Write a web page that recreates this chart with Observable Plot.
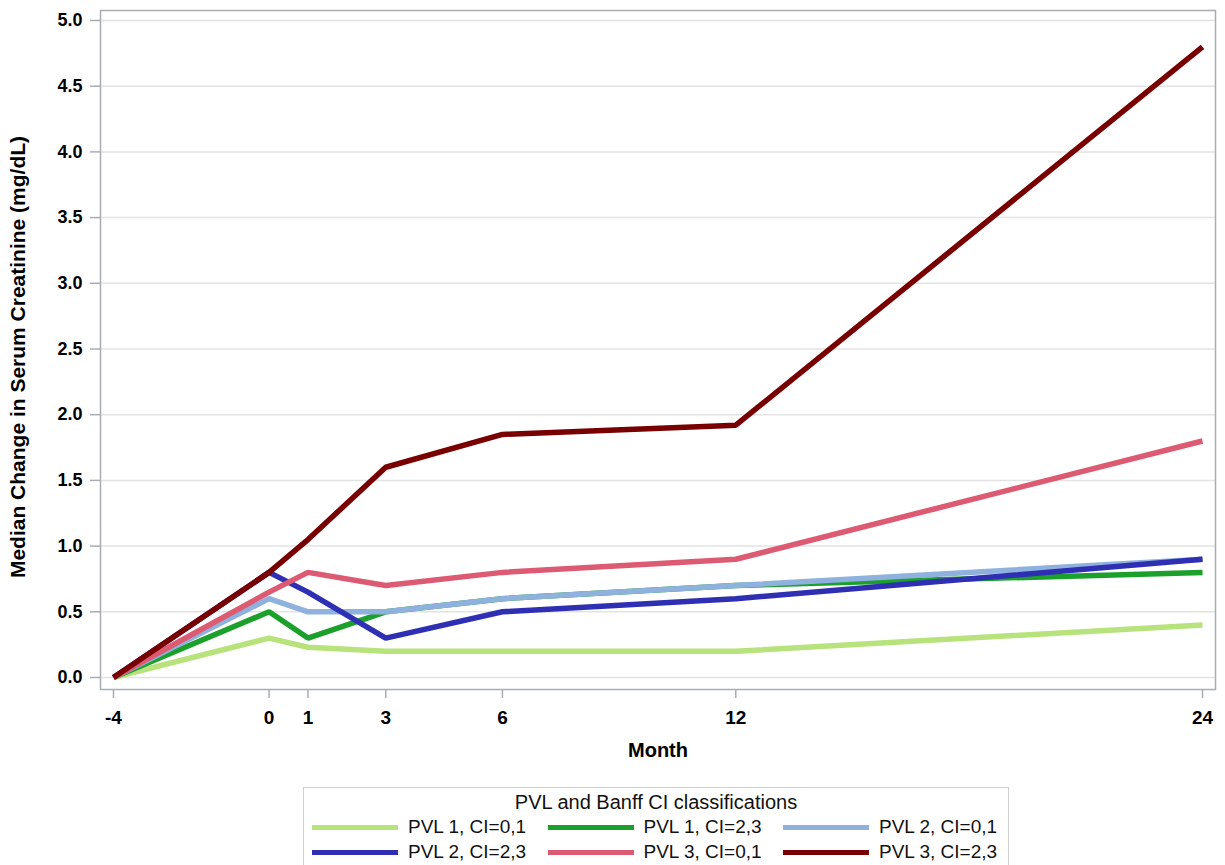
<!DOCTYPE html>
<html>
<head>
<meta charset="utf-8">
<script src="https://cdn.jsdelivr.net/npm/d3@7"></script>
<script src="https://cdn.jsdelivr.net/npm/@observablehq/plot@0.6"></script>
<style>
  body { margin: 0; background: #fff; font-family: "Liberation Sans", Arial, sans-serif; }
  #wrap { position: relative; width: 1225px; height: 865px; overflow: hidden; }
  #legend { position: absolute; left: 303px; top: 787px; width: 706px; height: 100px;
            border: 1px solid #cfcfcf; box-sizing: border-box; background: #fff; }
  #legend .title { position: absolute; left: 0; right: 0; top: 3px; text-align: center; font-size: 20px; color: #111; }
  #legend .item { position: absolute; display: flex; align-items: center; font-size: 19px; color: #111; white-space: nowrap; }
  #legend .sw { width: 86px; height: 5px; margin-right: 10px; }
</style>
</head>
<body>
<div id="wrap"><div id="chart"></div><div id="legend"></div></div>
<script>
const months = [-4, 0, 1, 3, 6, 12, 24];
const xTicks = [-4, 0, 1, 3, 6, 12, 24];
const yTicks = [0, 0.5, 1, 1.5, 2, 2.5, 3, 3.5, 4, 4.5, 5];
const seriesNames = ["PVL 1, CI=0,1", "PVL 1, CI=2,3", "PVL 2, CI=0,1", "PVL 2, CI=2,3", "PVL 3, CI=0,1", "PVL 3, CI=2,3"];
const seriesColors = ["#b8e27c", "#1ba02c", "#8fb1dd", "#2e2fb2", "#dc5a72", "#780000"];
const pvl1ci01 = [0, 0.30, 0.23, 0.20, 0.20, 0.20, 0.40];
const pvl1ci23 = [0, 0.50, 0.30, 0.50, 0.60, 0.70, 0.80];
const pvl2ci01 = [0, 0.60, 0.50, 0.50, 0.60, 0.70, 0.90];
const pvl2ci23 = [0, 0.80, 0.65, 0.30, 0.50, 0.60, 0.90];
const pvl3ci01 = [0, 0.65, 0.80, 0.70, 0.80, 0.90, 1.80];
const pvl3ci23 = [0, 0.80, 1.05, 1.60, 1.85, 1.92, 4.80];
const xLabel = "Month";
const yLabel = "Median Change in Serum Creatinine (mg/dL)";
const legendTitle = "PVL and Banff CI classifications";

const allSeries = [pvl1ci01, pvl1ci23, pvl2ci01, pvl2ci23, pvl3ci01, pvl3ci23];
const data = allSeries.flatMap((vals, i) => vals.map((v, j) => ({series: seriesNames[i], month: months[j], value: v})));

const gridColor = "#e3e3e3";
const axisColor = "#a9adb2";

const chart = Plot.plot({
  width: 1225,
  height: 780,
  marginLeft: 100,
  marginTop: 10,
  marginRight: 10,
  marginBottom: 91,
  style: {fontFamily: "'Liberation Sans', Arial, sans-serif", fontSize: "18px", color: "#000", background: "#fff"},
  x: {domain: [-4.334, 24.334]},
  y: {domain: [-0.0913, 5.076]},
  color: {domain: seriesNames, range: seriesColors},
  marks: [
    Plot.gridY(yTicks, {stroke: gridColor, strokeOpacity: 1, strokeWidth: 1.5}),
    Plot.frame({stroke: axisColor, strokeWidth: 1.5}),
    Plot.axisY(yTicks, {tickFormat: d => d.toFixed(1), tickSize: 10, tickPadding: 8, stroke: axisColor, strokeWidth: 1.5, fontSize: 18, fontWeight: "bold", label: null, letterSpacing: "1px"}),
    Plot.axisX(xTicks, {tickFormat: d => `${d}`, tickSize: 9, tickPadding: 12, stroke: axisColor, strokeWidth: 1.5, fontSize: 19, fontWeight: "bold", label: null}),
    Plot.text([xLabel], {text: d => d, frameAnchor: "bottom", dy: 67, fontSize: 20, fontWeight: "bold"}),
    Plot.text([yLabel], {text: d => d, frameAnchor: "left", textAnchor: "middle", rotate: -90, dx: -82, dy: 7, fontSize: 21, fontWeight: "bold", letterSpacing: "1.1px"}),
    Plot.line(data, {x: "month", y: "value", z: "series", stroke: "series", strokeWidth: 5.5, strokeLinecap: "butt", strokeLinejoin: "miter"})
  ]
});
document.getElementById("chart").appendChild(chart);

const legend = document.getElementById("legend");
const t = document.createElement("div");
t.className = "title";
t.textContent = legendTitle;
legend.appendChild(t);
seriesNames.forEach((name, i) => {
  const item = document.createElement("div");
  item.className = "item";
  item.style.left = (8 + (i % 3) * 235.5) + "px";
  item.style.top = (i < 3 ? 28 : 53) + "px";
  const sw = document.createElement("div");
  sw.className = "sw";
  sw.style.background = seriesColors[i];
  const lab = document.createElement("span");
  lab.textContent = name;
  item.appendChild(sw);
  item.appendChild(lab);
  legend.appendChild(item);
});
</script>
</body>
</html>
